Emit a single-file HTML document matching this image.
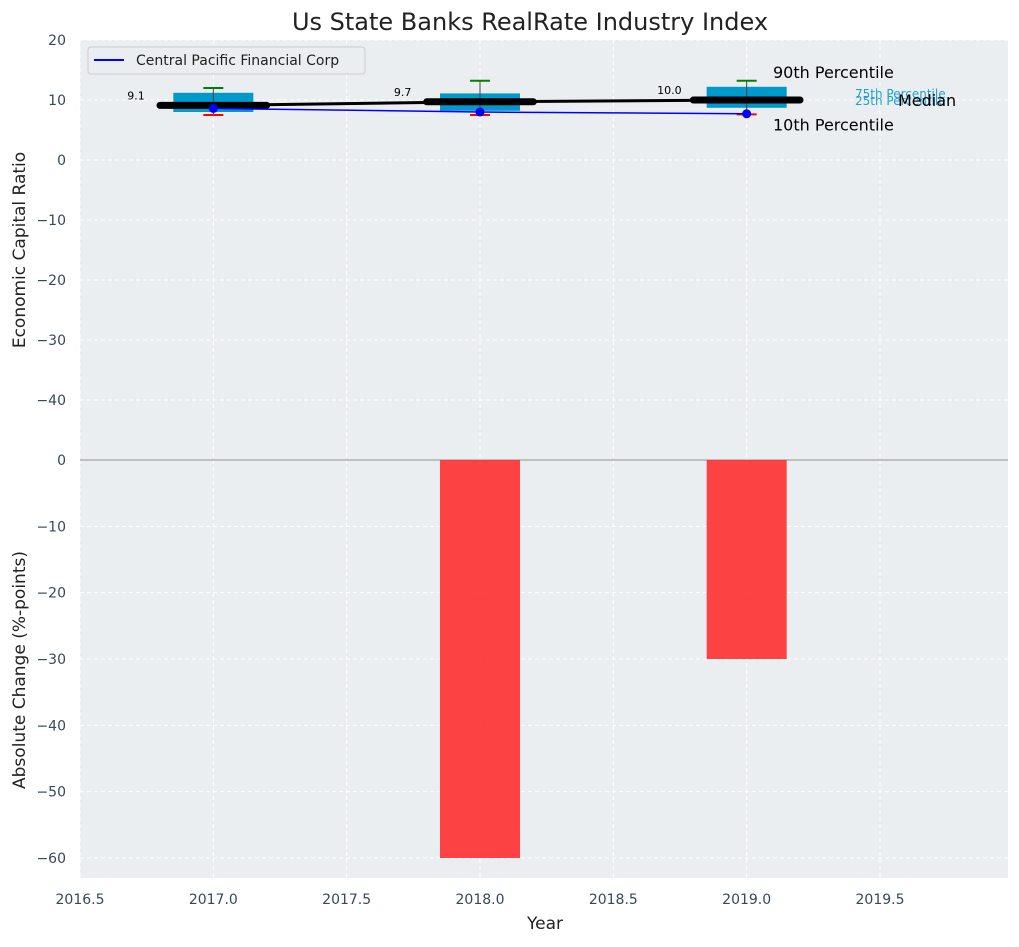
<!DOCTYPE html>
<html><head><meta charset="utf-8"><style>
body{margin:0;background:#fff;font-family:"Liberation Sans","DejaVu Sans",sans-serif}
text{font-family:"DejaVu Sans","Liberation Sans",sans-serif}
</style></head><body>
<svg id="c" width="1019" height="942" xmlns="http://www.w3.org/2000/svg"></svg>
<script>
const years=[2017,2018,2019];
const medians=[9.1,9.7,10.0];
const q25=[8.0,8.2,8.7];
const q75=[11.2,11.1,12.2];
const p10=[7.5,7.5,7.6];
const p90=[12.0,13.2,13.2];
const company=[8.6,8.0,7.7];
const changes=[0,-60,-30];
const xTicks=[2016.5,2017.0,2017.5,2018.0,2018.5,2019.0,2019.5];
const topTicks=[20,10,0,-10,-20,-30,-40];
const botTicks=[0,-10,-20,-30,-40,-50,-60];

const NS="http://www.w3.org/2000/svg",svg=document.getElementById('c');
function el(t,a,p){const e=document.createElementNS(NS,t);for(const k in a)e.setAttribute(k,a[k]);(p||svg).appendChild(e);return e;}
const L=80,R=1008;
const X=v=>80+(v-2016.5)*(R-L)/(2019.98-2016.5);
const Yt=v=>160-6*v;
const Yb=v=>460-v*(398/60);
const W=X(2017.3)-X(2017);

let bg=el('rect',{x:L,y:40,width:R-L,height:838,fill:'#eaeef0'});

xTicks.forEach(t=>{el('line',{x1:X(t),x2:X(t),y1:40,y2:878,stroke:'#fff','stroke-dasharray':'4,3','stroke-width':1});
 let tx=el('text',{x:X(t),y:904,'text-anchor':'middle','font-size':14,fill:'#34495e'});tx.textContent=t.toFixed(1);
 });
topTicks.forEach(t=>{el('line',{x1:L,x2:R,y1:Yt(t),y2:Yt(t),stroke:'#fff','stroke-dasharray':'4,3'});
 let tx=el('text',{x:66,y:Yt(t)+5,'text-anchor':'end','font-size':14,fill:'#34495e'});tx.textContent=t<0?'−'+(-t):t;
 });
botTicks.forEach(t=>{el('line',{x1:L,x2:R,y1:Yb(t),y2:Yb(t),stroke:'#fff','stroke-dasharray':'4,3'});
 let tx=el('text',{x:66,y:Yb(t)+5,'text-anchor':'end','font-size':14,fill:'#34495e'});tx.textContent=t<0?'−'+(-t):t;
 });
el('line',{x1:L,x2:R,y1:460,y2:460,stroke:'#b0b0b0','stroke-width':1.5});
years.forEach((y,i)=>{if(changes[i]===0)return;
 let b=el('rect',{x:X(y)-W/2,y:Yb(0),width:W,height:Yb(changes[i])-Yb(0),fill:'#ff2a2a','fill-opacity':0.88});
 });
years.forEach((y,i)=>{const cx=X(y);
 let b=el('rect',{x:cx-W/2,y:Yt(q75[i]),width:W,height:Yt(q25[i])-Yt(q75[i]),fill:'#0099cc'});
 
 el('line',{x1:cx,x2:cx,y1:Yt(p90[i]),y2:Yt(p10[i]),stroke:'#444','stroke-width':1});
 el('line',{x1:cx-10,x2:cx+10,y1:Yt(p90[i]),y2:Yt(p90[i]),stroke:'green','stroke-width':2});
 el('line',{x1:cx-10,x2:cx+10,y1:Yt(p10[i]),y2:Yt(p10[i]),stroke:'red','stroke-width':2});
});
let mp=years.map((y,i)=>X(y)+','+Yt(medians[i])).join(' ');
el('polyline',{points:mp,fill:'none',stroke:'#000','stroke-width':3});
years.forEach((y,i)=>{const cx=X(y),hw=X(2017.2)-X(2017);
 let m=el('line',{x1:cx-hw,x2:cx+hw,y1:Yt(medians[i]),y2:Yt(medians[i]),stroke:'#000','stroke-width':7,'stroke-linecap':'round'});
 
 let t=el('text',{x:X(y-0.29),y:Yt(medians[i])-6,'text-anchor':'middle','font-size':11,fill:'#000'});t.textContent=medians[i].toFixed(1);
 });
let cp=years.map((y,i)=>X(y)+','+Yt(company[i])).join(' ');
let cl=el('polyline',{points:cp,fill:'none',stroke:'blue','stroke-width':1.5});

years.forEach((y,i)=>el('circle',{cx:X(y),cy:Yt(company[i]),r:4.5,fill:'blue'}));
[['90th Percentile',Yt(p90[2])-3,16,'#000',773],['10th Percentile',Yt(p10[2])+16,16,'#000',773],
 ['75th Percentile',Yt(medians[2])-2,12,'#1ea0d0',855],['25th Percentile',Yt(medians[2])+5,12,'#1ea0d0',855],['Median',Yt(medians[2])+6,16,'#000',898]]
.forEach(a=>{let t=el('text',{x:a[4],y:a[1],'font-size':a[2],fill:a[3]});t.textContent=a[0];
 });
let lg=el('g',{});
el('rect',{x:88,y:47,width:277,height:27,rx:3,fill:'#eaeef0',stroke:'#ccc'},lg);
el('line',{x1:94,x2:124,y1:60,y2:60,stroke:'blue','stroke-width':2},lg);
let lt=el('text',{x:136,y:65,'font-size':14,fill:'#222'},lg);lt.textContent='Central Pacific Financial Corp';
let tt=el('text',{x:530,y:30,'text-anchor':'middle','font-size':24,fill:'#222'});tt.textContent='Us State Banks RealRate Industry Index';

let xt=el('text',{x:545,y:929,'text-anchor':'middle','font-size':17,fill:'#222'});xt.textContent='Year';

let y1=el('text',{x:0,y:0,'text-anchor':'middle','font-size':17,fill:'#222',transform:'translate(25,250) rotate(-90)'});y1.textContent='Economic Capital Ratio';

let y2=el('text',{x:0,y:0,'text-anchor':'middle','font-size':17,fill:'#222',transform:'translate(25,670) rotate(-90)'});y2.textContent='Absolute Change (%-points)';

</script>
</body></html>
